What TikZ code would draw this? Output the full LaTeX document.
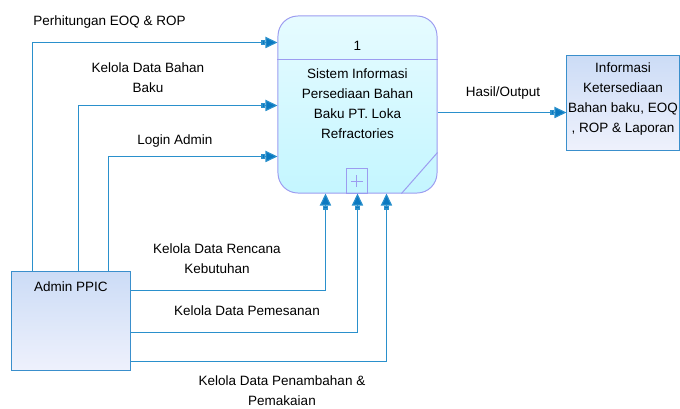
\documentclass[tikz,border=0pt]{standalone}
\usepackage{fontspec}
\setmainfont{Liberation Sans}
\usetikzlibrary{arrows.meta,calc}
\definecolor{flowline}{HTML}{2A90CC}
\definecolor{flowtip}{HTML}{0A78C0}
\definecolor{procedge}{HTML}{9C9CF0}
\definecolor{proctop}{HTML}{E6FBFF}
\definecolor{procbot}{HTML}{C4F6FF}
\definecolor{entedge}{HTML}{3A8FCC}
\definecolor{enttop}{HTML}{CCDCF6}
\definecolor{entbot}{HTML}{EEF1FC}
\tikzset{
  process/.style={draw=procedge, line width=0.7pt, rounded corners=0.5cm,
    top color=proctop, bottom color=procbot, minimum width=3.975cm, minimum height=4.425cm},
  procline/.style={draw=procedge, line width=0.7pt},
  entity/.style={draw=entedge, line width=0.7pt, top color=enttop, bottom color=entbot},
  flow/.style={draw=flowline, line width=0.8pt,
    -{Rectangle[length=1mm,width=1.3mm,fill=flowtip]Triangle[length=3mm,width=2.8mm,fill=flowtip]}},
  lbl/.style={font=\fontsize{9.6}{14.2}\selectfont, align=center, inner sep=0pt},
}

\begin{document}
\begin{tikzpicture}[x=0.025cm, y=-0.025cm]
\useasboundingbox (0,0) rectangle (680,409);

% process 1
\node[process] (proc) at (357.5,104.5) {};
\draw[procline] ($(proc.north west)+(0,44)$) -- ($(proc.north east)+(0,44)$);
\node[lbl] (procid) at ($(proc.north)+(0,30)$) {1};
\node[lbl] (proctext) at ($(proc.north)+(0,88)$) {Sistem Informasi\\Persediaan Bahan\\Baku PT. Loka\\Refractories};
\draw[procline] ($(proc.south west)+(69,-25)$) rectangle ($(proc.south west)+(90,0)$);
\draw[procline] ($(proc.south west)+(79.5,-18.5)$) -- ($(proc.south west)+(79.5,-6.5)$);
\draw[procline] ($(proc.south west)+(73.5,-12.5)$) -- ($(proc.south west)+(85.5,-12.5)$);
\draw[procline] ($(proc.south west)+(124,0)$) -- ($(proc.south east)+(0,-41)$);

% external entities
\node[entity, minimum width=2.95cm, minimum height=2.45cm] (admin) at (71,321) {};
\node[lbl, below=7pt] (admintext) at (admin.north) {Admin PPIC};
\node[entity, minimum width=2.8cm, minimum height=2.35cm] (out) at (623,103) {};
\node[lbl] (outtext) at (623,99) {Informasi\\Ketersediaan\\Bahan baku, EOQ\\, ROP \& Laporan};

% flows into the process
\draw[flow] ($(admin.north west)+(21,0)$) |- ($(proc.north west)+(0,27)$);
\draw[flow] ($(admin.north west)+(67,0)$) |- ($(proc.north west)+(0,90)$);
\draw[flow] ($(admin.north west)+(97,0)$) |- ($(proc.north west)+(0,141)$);
\draw[flow] ($(admin.north east)+(0,19)$) -| ($(proc.south west)+(48,0)$);
\draw[flow] ($(admin.north east)+(0,61)$) -| ($(proc.south west)+(80,0)$);
\draw[flow] ($(admin.north east)+(0,90)$) -| ($(proc.south west)+(109,0)$);
\draw[flow] ($(proc.north east)+(0,97)$) coordinate (o1) -- (o1 -| out.west);

% flow labels
\node[lbl, anchor=west] (l1) at (33,22) {Perhitungan EOQ \& ROP};
\node[lbl] (l2) at (148,78) {Kelola Data Bahan\\Baku};
\node[lbl] (l3) at (175,141) {Login Admin};
\node[lbl] (l4) at (217,259) {Kelola Data Rencana\\Kebutuhan};
\node[lbl] (l5) at (247,311) {Kelola Data Pemesanan};
\node[lbl] (l6) at (282,391) {Kelola Data Penambahan \&\\Pemakaian};
\node[lbl] (l7) at (503,93) {Hasil/Output};

\end{tikzpicture}
\end{document}
